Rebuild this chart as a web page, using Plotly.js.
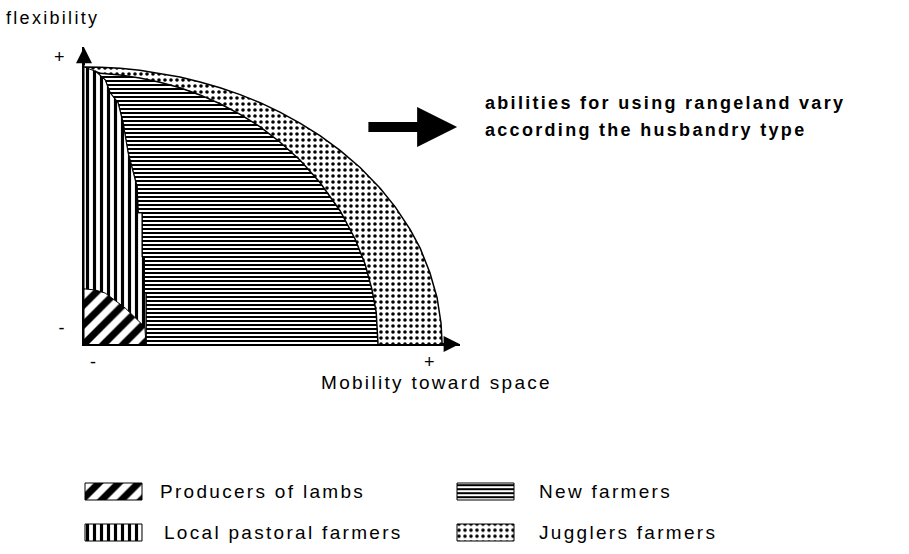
<!DOCTYPE html>
<html>
<head>
<meta charset="utf-8">
<script src="https://cdn.plot.ly/plotly-3.0.1.min.js"></script>
<style>
  html, body { margin: 0; padding: 0; background: #fff; }
  #chart { width: 909px; height: 554px; }
  .annotation-text { letter-spacing: 2.3px; }
</style>
</head>
<body>
<div id="chart"></div>
<script>
// ---- Data (conceptual units: 0..100 on each axis) ----
var seriesNames = ["Producers of lambs", "Local pastoral farmers", "New farmers", "Jugglers farmers"];

// Outer boundary: Jugglers farmers
var jugglersX = [0, 4.5, 10.1, 15.6, 21.2, 26.8, 32.4, 38.0, 43.6, 49.2, 54.7, 60.3, 65.9, 71.5, 77.1, 82.7, 86.9, 91.1, 93.9, 96.6, 98.6, 99.7, 100];
var jugglersY = [100, 99.9, 99.5, 98.8, 97.7, 96.4, 94.6, 92.5, 90.0, 87.1, 83.7, 79.7, 75.2, 69.9, 63.7, 56.2, 49.5, 41.3, 34.5, 25.7, 16.7, 7.5, 0];

// Outer boundary: New farmers
var newFarmersX = [4.5, 10.1, 15.6, 21.2, 26.8, 32.4, 38.0, 43.6, 49.2, 54.7, 60.3, 65.9, 71.5, 75.7, 78.5, 80.4, 81.6, 82.1];
var newFarmersY = [97.7, 97.1, 96.0, 94.5, 92.5, 89.9, 86.7, 82.9, 78.4, 72.9, 66.4, 58.3, 48.1, 37.9, 28.8, 19.7, 11.4, 0];

// Boundary between Local pastoral farmers and New farmers (top to bottom)
var pastoralX = [3.1, 5.9, 7.3, 9.5, 10.9, 12.3, 14.8, 15.1, 16.2, 16.2, 16.8, 16.8, 17.3, 17.3];
var pastoralY = [98.5, 95.3, 90.6, 87.0, 79.8, 69.0, 56.7, 47.3, 47.3, 31.4, 31.4, 18.4, 18.4, 0];

// Producers of lambs region
var producersX = [0, 0, 3.1, 5.9, 11.5, 17.0, 17.3];
var producersY = [0, 19.9, 19.5, 18.4, 13.0, 6.1, 0];

// Axis tick labels
var xTickVals = [2.5, 96.4], xTickText = ["-", "+"];
var yTickVals = [5.8, 103.6], yTickText = ["-", "+"];
var xTitle = "Mobility toward space";
var yTitle = "flexibility";
var noteLines = ["abilities for using rangeland vary", "according the husbandry type"];

// ---- Styles ----
var FONT = "Liberation Sans, Arial, sans-serif";
var patterns = {
  "Producers of lambs":     {shape: "/", size: 14, solidity: 0.5},
  "Local pastoral farmers": {shape: "|", size: 7,  solidity: 0.45},
  "New farmers":            {shape: "-", size: 4,  solidity: 0.5},
  "Jugglers farmers":       {shape: ".", size: 6,  solidity: 0.28}
};
function pat(name) {
  var p = patterns[name];
  return {shape: p.shape, size: p.size, solidity: p.solidity, fgcolor: "black", bgcolor: "white", fillmode: "replace"};
}

// ---- Region polygons built from the arrays ----
var regions = {
  "Jugglers farmers": {x: [0].concat(jugglersX), y: [0].concat(jugglersY), w: 1.5},
  "New farmers": {x: pastoralX.slice().reverse().concat(newFarmersX), y: pastoralY.slice().reverse().concat(newFarmersY), w: 1.5},
  "Local pastoral farmers": {x: [0, 0].concat(pastoralX), y: [0, 100].concat(pastoralY), w: 1},
  "Producers of lambs": {x: producersX, y: producersY, w: 1}
};
var drawOrder = ["Jugglers farmers", "New farmers", "Local pastoral farmers", "Producers of lambs"];

var traces = drawOrder.map(function (name) {
  var r = regions[name];
  return {
    type: "scatter", mode: "lines", name: name,
    x: r.x, y: r.y, fill: "toself",
    fillcolor: "white", fillpattern: pat(name),
    line: {color: "black", width: r.w},
    hoverinfo: "name", showlegend: false
  };
});

// ---- Custom legend (swatches on a helper subplot in pixel units) ----
var legendCol = [0, 0, 1, 1], legendRow = [0, 1, 0, 1];
var colX = [85, 457], rowY = [483, 524], swW = 57, swH = 17;
var colTextX = [158, 537];
var annotations = [];
seriesNames.forEach(function (name, i) {
  var x0 = colX[legendCol[i]], y0 = rowY[legendRow[i]];
  traces.push({
    type: "scatter", mode: "lines", xaxis: "x2", yaxis: "y2",
    x: [x0, x0 + swW, x0 + swW, x0, x0], y: [y0, y0, y0 + swH, y0 + swH, y0],
    fill: "toself", fillcolor: "white", fillpattern: pat(name),
    line: {color: "black", width: 1}, hoverinfo: "skip", showlegend: false
  });
  var tx = colTextX[legendCol[i]] + (i === 1 ? 4 : 0);
  annotations.push({
    xref: "paper", yref: "paper", x: tx / 909, y: 1 - (y0 + 8.5) / 554,
    xanchor: "left", yanchor: "middle", showarrow: false, text: name,
    font: {family: FONT, size: 19, color: "black"}
  });
});

// Axis titles / notes
annotations.push({xref: "paper", yref: "paper", x: 4 / 909, y: 1 - 18 / 554, xanchor: "left", yanchor: "middle",
  showarrow: false, text: yTitle, font: {family: FONT, size: 18, color: "black"}});
annotations.push({xref: "paper", yref: "paper", x: 319 / 909, y: 1 - 382 / 554, xanchor: "left", yanchor: "middle",
  showarrow: false, text: xTitle, font: {family: FONT, size: 19, color: "black"}});
noteLines.forEach(function (t, i) {
  annotations.push({xref: "paper", yref: "paper", x: 483 / 909, y: 1 - (103 + 27 * i) / 554, xanchor: "left", yanchor: "middle",
    showarrow: false, text: "<b>" + t + "</b>", font: {family: FONT, size: 18, color: "black"}});
});

// Axis arrowheads
annotations.push({xref: "x", yref: "y", axref: "x", ayref: "y", x: 0, y: 107.1, ax: 0, ay: 100,
  showarrow: true, arrowhead: 2, arrowsize: 1.6, arrowwidth: 2, arrowcolor: "black", text: ""});
annotations.push({xref: "x", yref: "y", axref: "x", ayref: "y", x: 104.9, y: 0, ax: 99, ay: 0,
  showarrow: true, arrowhead: 2, arrowsize: 1.6, arrowwidth: 2, arrowcolor: "black", text: ""});
// Big arrow
annotations.push({xref: "x", yref: "y", axref: "x", ayref: "y", x: 104.2, y: 78.3, ax: 79, ay: 78.3,
  showarrow: true, arrowhead: 2, arrowsize: 0.8, arrowwidth: 10, arrowcolor: "black", text: ""});

var layout = {
  width: 909, height: 554,
  margin: {l: 0, r: 0, t: 0, b: 0},
  paper_bgcolor: "white", plot_bgcolor: "rgba(0,0,0,0)",
  showlegend: false,
  xaxis: {domain: [84 / 909, 460 / 909], range: [0, 105], showline: true, linecolor: "black", linewidth: 2,
    showgrid: false, zeroline: false, ticks: "", tickvals: xTickVals, ticktext: xTickText,
    tickfont: {family: FONT, size: 18, color: "black"}, fixedrange: true},
  yaxis: {domain: [(554 - 344) / 554, (554 - 47) / 554], range: [0, 107.2], showline: true, linecolor: "black", linewidth: 2,
    showgrid: false, zeroline: false, ticks: "", tickvals: yTickVals, ticktext: yTickText, ticklabelstandoff: 14,
    tickfont: {family: FONT, size: 18, color: "black"}, fixedrange: true},
  xaxis2: {domain: [0, 1], range: [0, 909], visible: false, anchor: "y2", fixedrange: true},
  yaxis2: {domain: [0, 0.2], range: [554, 554 - 0.2 * 554], visible: false, anchor: "x2", fixedrange: true},
  annotations: annotations
};

Plotly.newPlot("chart", traces, layout, {displayModeBar: false, staticPlot: true});
</script>
</body>
</html>
